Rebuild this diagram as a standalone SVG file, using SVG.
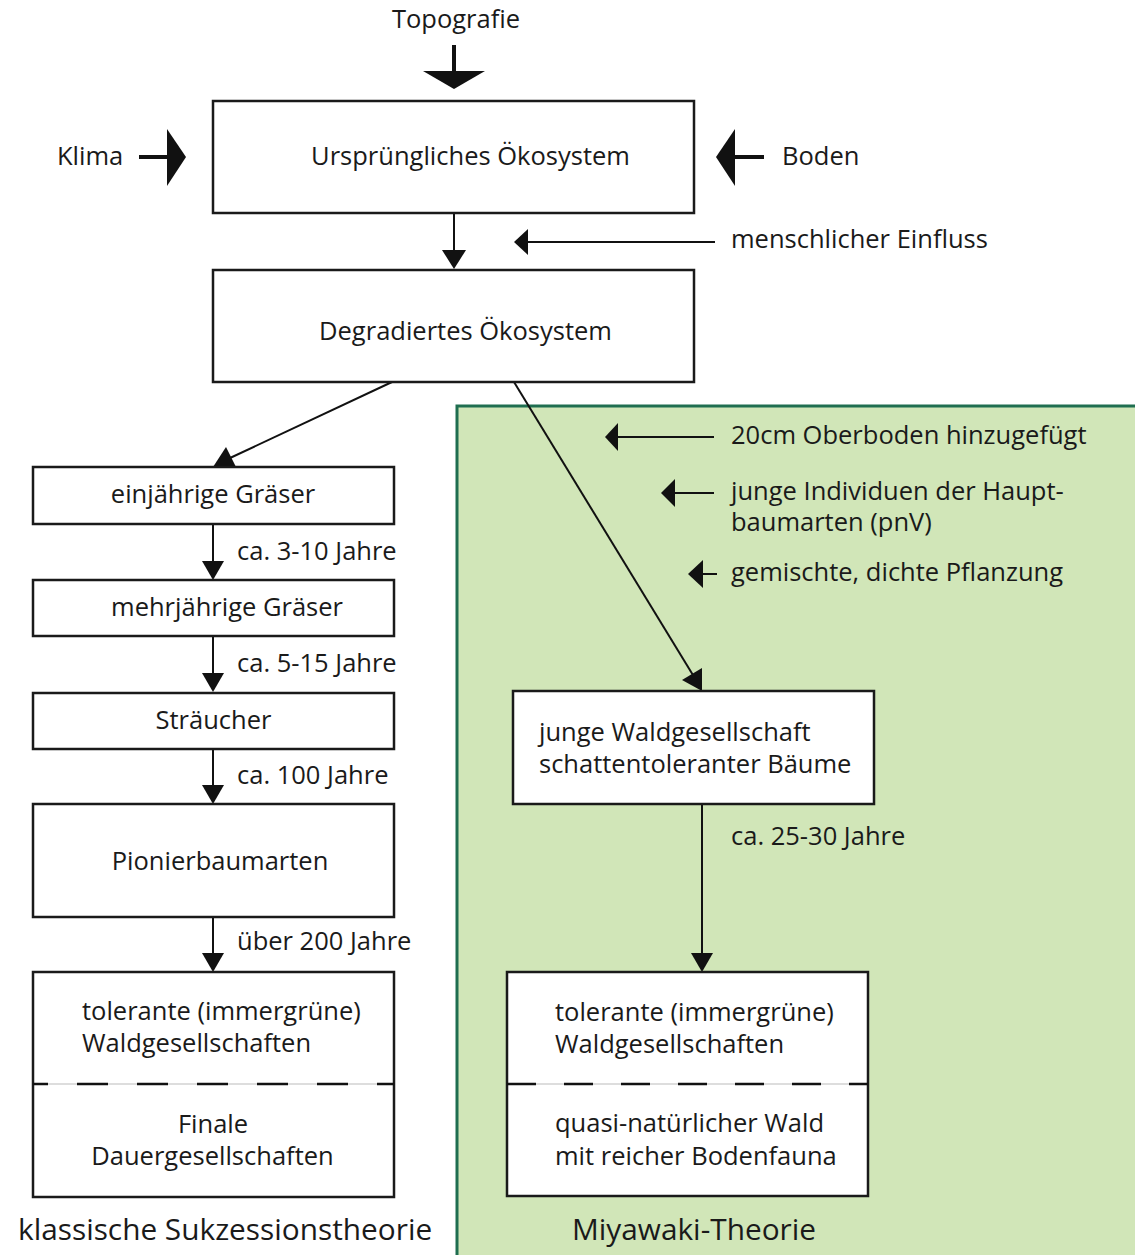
<svg xmlns="http://www.w3.org/2000/svg" width="1135" height="1255" viewBox="0 0 1135 1255">
<style>
text{font-family:"Open Sans","Liberation Sans",sans-serif;font-size:25.5px;fill:#1a1a1a}
.big{font-size:29.8px}
.box{fill:#fff;stroke:#1a1a1a;stroke-width:2.5}
.ln{stroke:#111;stroke-width:2;fill:none}
.thk{stroke:#111;stroke-width:4;fill:none}
.hd{fill:#111}
.dash{stroke:#111;stroke-width:2.5}
.faint{stroke:#bbb;stroke-width:1}
.m{text-anchor:middle}
</style>
<rect id="miyawaki-area" x="457" y="406" width="682" height="855" fill="#d1e6b8" stroke="#1f6e50" stroke-width="3"/>
<g id="connectors">
<line class="thk" x1="454" y1="45" x2="454" y2="73"/>
<polygon class="hd" points="423,71 485,71 454,89"/>
<line class="thk" x1="139" y1="157" x2="168" y2="157"/>
<polygon class="hd" points="167,129 186,157 167,186"/>
<line class="thk" x1="733" y1="157" x2="764" y2="157"/>
<polygon class="hd" points="735,129 716,157 735,186"/>
<line class="ln" x1="454" y1="213" x2="454" y2="252"/>
<polygon class="hd" points="442,250 466,250 454,269"/>
<line class="ln" x1="526" y1="242" x2="715" y2="242"/>
<polygon class="hd" points="528,229 514,242 528,255"/>
<line class="ln" x1="392" y1="382" x2="230" y2="458"/>
<polygon class="hd" points="213,467 236,467 226,447"/>
<line class="ln" x1="514" y1="382" x2="696" y2="680"/>
<polygon class="hd" points="682,680 702,668 702,691"/>
<line class="ln" x1="616" y1="437" x2="714" y2="437"/>
<polygon class="hd" points="618,423 605,437 618,451"/>
<line class="ln" x1="673" y1="493" x2="714" y2="493"/>
<polygon class="hd" points="675,479 661,493 675,507"/>
<line class="ln" x1="701" y1="574" x2="717" y2="574"/>
<polygon class="hd" points="703,560 688,574 703,588"/>
<line class="ln" x1="213" y1="524" x2="213" y2="563"/>
<polygon class="hd" points="202,561 224,561 213,580"/>
<line class="ln" x1="213" y1="636" x2="213" y2="675"/>
<polygon class="hd" points="202,673 224,673 213,692"/>
<line class="ln" x1="213" y1="749" x2="213" y2="787"/>
<polygon class="hd" points="202,785 224,785 213,804"/>
<line class="ln" x1="213" y1="917" x2="213" y2="955"/>
<polygon class="hd" points="202,953 224,953 213,972"/>
<line class="ln" x1="702" y1="804" x2="702" y2="955"/>
<polygon class="hd" points="691,953 713,953 702,972"/>
</g>
<g id="topografie"><text class="m" x="456" y="28">Topografie</text></g>
<g id="klima"><text x="57" y="165">Klima</text></g>
<g id="boden"><text x="782" y="165">Boden</text></g>
<g id="menschlicher-einfluss"><text x="731" y="248">menschlicher Einfluss</text></g>
<g id="urspruengliches">
<rect class="box" x="213" y="101" width="481" height="112"/>
<text class="m" x="470.5" y="165">Ursprüngliches Ökosystem</text>
</g>
<g id="degradiertes">
<rect class="box" x="213" y="270" width="481" height="112"/>
<text class="m" x="465.5" y="340">Degradiertes Ökosystem</text>
</g>
<g id="einjaehrige">
<rect class="box" x="33" y="467" width="361" height="57"/>
<text class="m" x="213" y="503">einjährige Gräser</text>
</g>
<g id="label-3-10"><text x="237" y="560">ca. 3-10 Jahre</text></g>
<g id="mehrjaehrige">
<rect class="box" x="33" y="580" width="361" height="56"/>
<text class="m" x="227" y="616">mehrjährige Gräser</text>
</g>
<g id="label-5-15"><text x="237" y="672">ca. 5-15 Jahre</text></g>
<g id="straeucher">
<rect class="box" x="33" y="693" width="361" height="56"/>
<text class="m" x="213.5" y="729">Sträucher</text>
</g>
<g id="label-100"><text x="237" y="784">ca. 100 Jahre</text></g>
<g id="pionier">
<rect class="box" x="33" y="804" width="361" height="113"/>
<text class="m" x="220" y="870">Pionierbaumarten</text>
</g>
<g id="label-200"><text x="237" y="950">über 200 Jahre</text></g>
<g id="final-klassisch">
<rect class="box" x="33" y="972" width="361" height="225"/>
<line class="faint" x1="33" y1="1084" x2="394" y2="1084"/>
<line class="dash" x1="33" y1="1084" x2="394" y2="1084" stroke-dasharray="31,29" stroke-dashoffset="16"/>
<text x="82" y="1020">tolerante (immergrüne)</text>
<text x="82" y="1052">Waldgesellschaften</text>
<text class="m" x="213" y="1133">Finale</text>
<text class="m" x="212.5" y="1165">Dauergesellschaften</text>
</g>
<g id="klassische-label"><text class="big" x="18" y="1240">klassische Sukzessionstheorie</text></g>
<g id="oberboden"><text x="731" y="444">20cm Oberboden hinzugefügt</text></g>
<g id="individuen"><text x="731" y="500">junge Individuen der Haupt-</text><text x="731" y="531">baumarten (pnV)</text></g>
<g id="pflanzung"><text x="731" y="581">gemischte, dichte Pflanzung</text></g>
<g id="junge-wald">
<rect class="box" x="513" y="691" width="361" height="113"/>
<text x="539" y="741">junge Waldgesellschaft</text>
<text x="539" y="773">schattentoleranter Bäume</text>
</g>
<g id="label-25-30"><text x="731" y="845">ca. 25-30 Jahre</text></g>
<g id="final-miyawaki">
<rect class="box" x="507" y="972" width="361" height="224"/>
<line class="faint" x1="507" y1="1084" x2="868" y2="1084"/>
<line class="dash" x1="507" y1="1084" x2="868" y2="1084" stroke-dasharray="29,28" stroke-dashoffset="0"/>
<text x="555" y="1021">tolerante (immergrüne)</text>
<text x="555" y="1053">Waldgesellschaften</text>
<text x="555" y="1132">quasi-natürlicher Wald</text>
<text x="555" y="1165">mit reicher Bodenfauna</text>
</g>
<g id="miyawaki-label"><text class="big" x="572" y="1240">Miyawaki-Theorie</text></g>
</svg>
